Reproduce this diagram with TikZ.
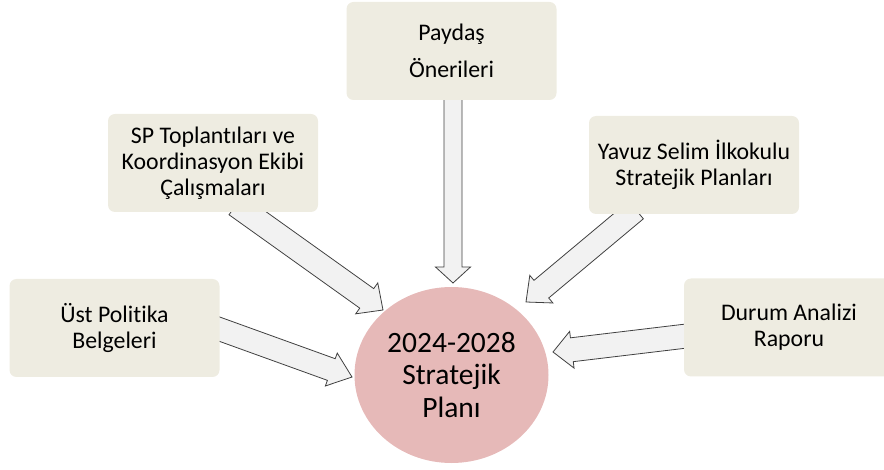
\documentclass[tikz,border=0pt]{standalone}
\usepackage{fontspec}
\setmainfont{Carlito}[Ligatures=NoCommon]
\usetikzlibrary{calc,shapes.geometric}
\definecolor{boxfill}{HTML}{EEECE1}
\definecolor{circfill}{HTML}{E6B9B8}
\definecolor{arrfill}{HTML}{F2F2F2}
\definecolor{arrline}{HTML}{404040}
\tikzset{
  srcbox/.style={rectangle, rounded corners=7pt, fill=boxfill, draw=none,
    minimum width=210pt, minimum height=98pt, inner sep=0pt, align=center,
    font=\fontsize{23.8}{25.8}\selectfont},
  planbox/.style={ellipse, fill=circfill, draw=none, minimum width=194pt,
    minimum height=176pt, inner sep=0pt, align=center,
    font=\fontsize{29.5}{32.5}\selectfont},
  blockarr/.style={fill=arrfill, draw=arrline, line width=0.8pt, line join=miter}
}
\newcommand\blockarrow[6]{%
  \coordinate (#1h) at ($(#3)!#6!(#2)$);
  \draw[blockarr] ($(#2)!#4!90:(#3)$) -- ($(#1h)!#4!-90:(#2)$) -- ($(#1h)!#5!-90:(#2)$)
    -- (#3) -- ($(#1h)!#5!90:(#2)$) -- ($(#1h)!#4!90:(#2)$) -- ($(#2)!#4!-90:(#3)$) -- cycle;}
\begin{document}
\begin{tikzpicture}[x=1pt,y=-1pt]
\useasboundingbox (0,0) rectangle (884,470);
\node[planbox] (plan) at (451.5,375) {2024-2028\\Stratejik\\Planı};
% arrow end points
\coordinate (payT) at (453,95);   \coordinate (payP) at (453,283);
\coordinate (spT) at (236,205);   \coordinate (spP) at (383,310);
\coordinate (ustT) at (208,325);  \coordinate (ustP) at (352,377);
\coordinate (yavT) at (636,210);  \coordinate (yavP) at (526,302);
\coordinate (durT) at (695,335);  \coordinate (durP) at (553,352);
\blockarrow{pa}{payT}{payP}{9pt}{17.5pt}{16pt}
\blockarrow{sa}{spT}{spP}{12pt}{19pt}{20pt}
\blockarrow{ua}{ustT}{ustP}{11.5pt}{17.5pt}{22pt}
\blockarrow{ya}{yavT}{yavP}{11.5pt}{18pt}{20pt}
\blockarrow{da}{durT}{durP}{12pt}{18.5pt}{19pt}
% boxes
\node[srcbox, font=\fontsize{23.8}{36.5}\selectfont] (pay) at (451.5,51) {Paydaş\\Önerileri};
\node[srcbox] (sp) at (213,163) {SP Toplantıları ve\\Koordinasyon Ekibi\\Çalışmaları};
\node[srcbox] (ust) at (114.5,328) {Üst Politika\\Belgeleri};
\node[srcbox] (yav) at (694,165) {Yavuz Selim İlkokulu\\Stratejik Planları};
\node[srcbox] (dur) at (789,327.5) {Durum Analizi\\Raporu};
\end{tikzpicture}
\end{document}
